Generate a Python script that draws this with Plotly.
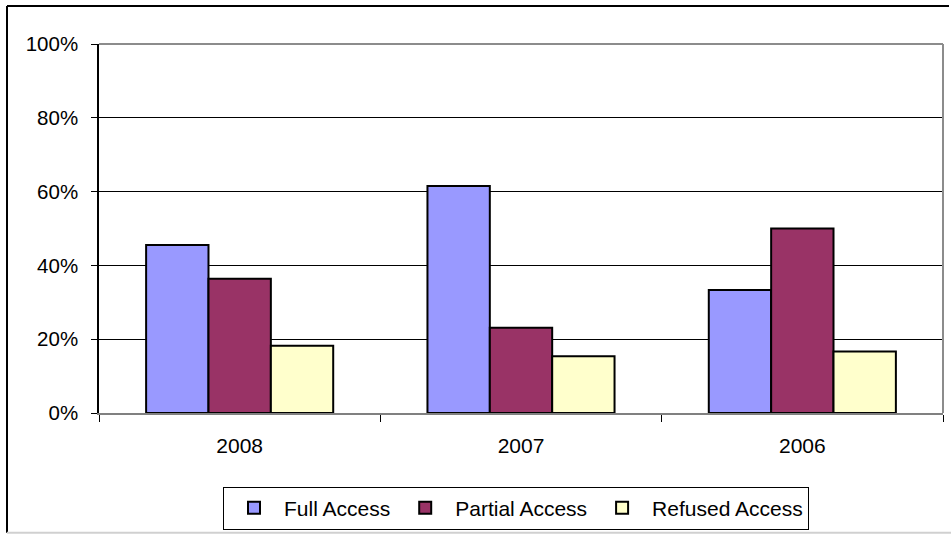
import plotly.graph_objects as go

categories = ["2008", "2007", "2006"]
full_access = [45.5, 61.5, 33.3]
partial_access = [36.4, 23.1, 50.0]
refused_access = [18.2, 15.4, 16.7]
series_names = ["Full Access", "Partial Access", "Refused Access"]
series_colors = ["#9999FF", "#993366", "#FFFFCC"]
y_ticks = [0, 20, 40, 60, 80, 100]

fig = go.Figure()
for name, vals, col in zip(series_names, [full_access, partial_access, refused_access], series_colors):
    fig.add_trace(go.Bar(
        x=categories, y=vals, name=name,
        marker=dict(color=col, line=dict(color="black", width=2)),
    ))

# pixel -> paper helpers (plot area 99..943 x, 44..414 y)
L, R, T, B = 99, 943, 44, 414
def px(x):
    return (x - L) / (R - L)
def py(y):
    return (B - y) / (B - T)

shapes = [
    dict(type="line", xref="paper", yref="paper", x0=0, x1=1, y0=1, y1=1,
         line=dict(color="#8c8c8c", width=2)),
    dict(type="line", xref="paper", yref="paper", x0=1, x1=1, y0=0, y1=1,
         line=dict(color="#8c8c8c", width=2)),
    dict(type="line", xref="paper", yref="paper", x0=px(7), x1=px(949), y0=py(6), y1=py(6),
         line=dict(color="black", width=2)),
    dict(type="line", xref="paper", yref="paper", x0=px(7), x1=px(7), y0=py(6), y1=py(534),
         line=dict(color="black", width=2)),
    dict(type="line", xref="paper", yref="paper", x0=px(7), x1=px(951), y0=py(534), y1=py(534),
         line=dict(color="#d0d0d0", width=2)),
]

fig.update_layout(
    width=951, height=536,
    margin=dict(l=L, r=951 - R, t=T, b=536 - B, pad=0),
    paper_bgcolor="white", plot_bgcolor="white",
    font=dict(family="Liberation Sans, Arial, sans-serif", size=20, color="black"),
    barmode="group", bargap=0.335, bargroupgap=0,
    showlegend=True,
    legend=dict(
        orientation="h", xanchor="center", x=px(516), yanchor="middle", y=py(508),
        bordercolor="black", borderwidth=1, bgcolor="white",
        font=dict(size=21), itemwidth=50, traceorder="normal",
    ),
    shapes=shapes,
)

fig.update_xaxes(
    type="category", showline=True, linecolor="#808080", linewidth=2,
    ticks="outside", tickson="boundaries", ticklen=7, tickcolor="black", tickwidth=1,
    ticklabelstandoff=13, showgrid=False, fixedrange=True, tickfont=dict(size=21),
)
fig.update_yaxes(
    range=[0, 100], tickvals=y_ticks, ticktext=[f"{v}%" for v in y_ticks],
    showline=True, linecolor="black", linewidth=1.5,
    ticks="outside", ticklen=6, tickcolor="black", tickwidth=1,
    ticklabelstandoff=9, tickfont=dict(size=20.5),
    showgrid=True, gridcolor="black", gridwidth=1, zeroline=False, fixedrange=True,
)

fig.write_html("out.html")
